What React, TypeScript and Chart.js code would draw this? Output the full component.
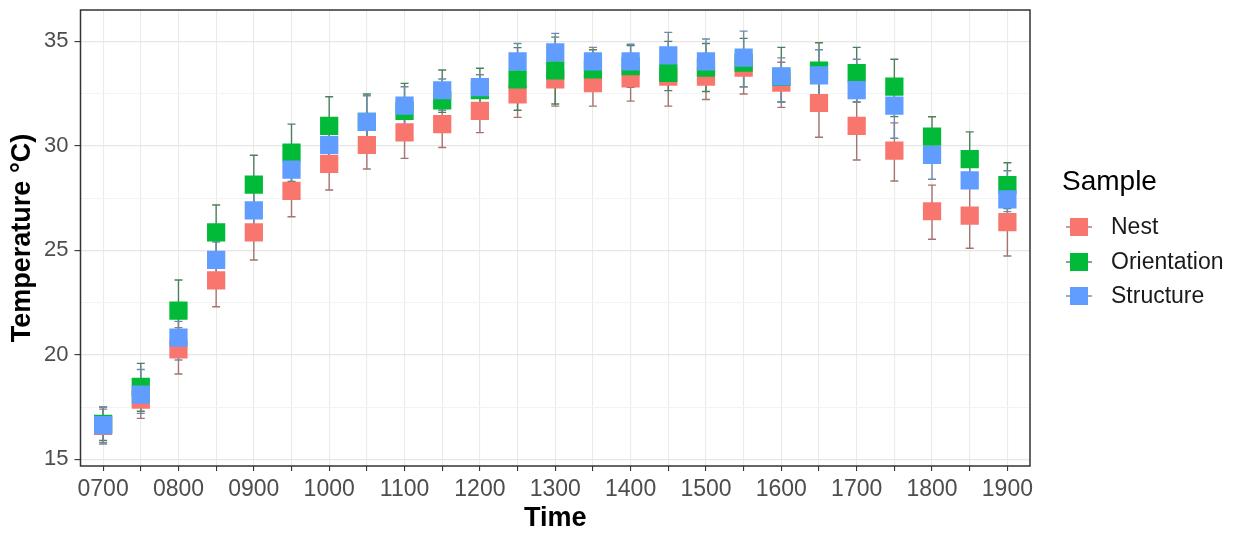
import React, { useEffect, useRef } from 'react';
import { Chart, registerables } from 'chart.js';

Chart.register(...registerables);

const TIMES = [
  '0700', '0730', '0800', '0830', '0900', '0930', '1000', '1030', '1100', '1130',
  '1200', '1230', '1300', '1330', '1400', '1430', '1500', '1530', '1600', '1630',
  '1700', '1730', '1800', '1830', '1900',
];

const SERIES_NAMES = ['Nest', 'Orientation', 'Structure'];

const NEST_MEAN = [16.6, 17.85, 20.26, 23.56, 25.86, 27.85, 29.14, 30.04, 30.65, 31.04, 31.67, 32.46, 33.18, 33.0, 33.23, 33.31, 33.31, 33.74, 33.03, 32.05, 30.95, 29.77, 26.87, 26.66, 26.35];
const NEST_LOW = [15.8, 16.96, 19.08, 22.3, 24.54, 26.61, 27.89, 28.89, 29.4, 29.92, 30.63, 31.36, 31.9, 31.9, 32.14, 31.9, 32.22, 32.48, 31.84, 30.41, 29.32, 28.32, 25.53, 25.1, 24.73];
const NEST_HIGH = [17.4, 18.6, 21.3, 24.7, 27.0, 29.0, 30.3, 31.2, 31.8, 32.1, 32.6, 33.4, 34.0, 34.0, 34.2, 34.3, 34.3, 34.5, 34.0, 33.5, 32.4, 31.1, 28.12, 28.1, 27.9];

const ORIENT_MEAN = [16.7, 18.47, 22.11, 25.86, 28.14, 29.67, 30.95, 31.15, 31.67, 32.18, 32.67, 33.18, 33.61, 33.66, 33.82, 33.49, 33.74, 33.98, 33.3, 33.6, 33.48, 32.83, 30.44, 29.37, 28.12];
const ORIENT_LOW = [15.9, 17.3, 20.6, 24.5, 26.8, 28.3, 29.5, 29.9, 30.4, 31.6, 31.6, 31.7, 32.0, 32.7, 32.8, 32.64, 32.6, 32.83, 32.1, 32.3, 32.1, 31.4, 29.3, 28.2, 27.0];
const ORIENT_HIGH = [17.5, 19.59, 23.58, 27.17, 29.55, 31.04, 32.35, 32.48, 32.99, 33.63, 33.71, 34.7, 35.2, 34.6, 34.8, 35.0, 34.9, 35.14, 34.71, 34.93, 34.71, 34.14, 31.39, 30.67, 29.19];

const STRUCT_MEAN = [16.64, 18.09, 20.82, 24.54, 26.91, 28.86, 30.04, 31.15, 31.92, 32.66, 32.81, 34.04, 34.47, 34.04, 34.04, 34.33, 34.04, 34.22, 33.32, 33.37, 32.67, 31.92, 29.57, 28.35, 27.44];
const STRUCT_LOW = [15.73, 17.2, 19.75, 23.6, 26.0, 27.8, 28.9, 30.0, 30.9, 31.7, 31.9, 33.0, 33.3, 33.0, 33.0, 33.2, 33.0, 32.83, 32.11, 32.4, 32.1, 30.36, 28.4, 28.1, 26.85];
const STRUCT_HIGH = [17.5, 19.3, 21.6, 25.4, 27.8, 29.9, 31.2, 32.4, 32.83, 33.2, 33.4, 34.9, 35.38, 34.71, 34.86, 35.43, 35.11, 35.49, 34.21, 34.6, 34.14, 33.0, 30.5, 29.4, 28.81];

const Y_TICKS = [15, 17.5, 20, 22.5, 25, 27.5, 30, 32.5, 35];
const Y_MAJOR = [15, 20, 25, 30, 35];

const FILL_COLORS = ['#F8766D', '#00BA38', '#619CFF'];
const WHISKER_COLORS = ['#A47470', '#4C7F5C', '#6F8AA6'];
const FONT = "'Liberation Sans', Arial, sans-serif";

const MEANS = [NEST_MEAN, ORIENT_MEAN, STRUCT_MEAN];
const LOWS = [NEST_LOW, ORIENT_LOW, STRUCT_LOW];
const HIGHS = [NEST_HIGH, ORIENT_HIGH, STRUCT_HIGH];

const errorBarPlugin = {
  id: 'errorBars',
  beforeDatasetsDraw(chart: any) {
    const { ctx, scales } = chart;
    const xs = scales.x;
    const ys = scales.y;
    ctx.save();
    ctx.lineWidth = 1.4;
    chart.data.datasets.forEach((ds: any, di: number) => {
      ctx.strokeStyle = WHISKER_COLORS[di];
      ds.data.forEach((p: any) => {
        const px = xs.getPixelForValue(p.x);
        const yl = ys.getPixelForValue(p.low);
        const yh = ys.getPixelForValue(p.high);
        ctx.beginPath();
        ctx.moveTo(px, yl);
        ctx.lineTo(px, yh);
        ctx.moveTo(px - 4, yl);
        ctx.lineTo(px + 4, yl);
        ctx.moveTo(px - 4, yh);
        ctx.lineTo(px + 4, yh);
        ctx.stroke();
      });
    });
    ctx.restore();
  },
};

const borderPlugin = {
  id: 'panelBorder',
  afterDatasetsDraw(chart: any) {
    const { ctx, chartArea } = chart;
    ctx.save();
    ctx.strokeStyle = '#333333';
    ctx.lineWidth = 1.5;
    ctx.strokeRect(chartArea.left, chartArea.top, chartArea.right - chartArea.left, chartArea.bottom - chartArea.top);
    ctx.restore();
  },
};

const legendPlugin = {
  id: 'sideLegend',
  afterDraw(chart: any) {
    const { ctx } = chart;
    ctx.save();
    ctx.fillStyle = '#000000';
    ctx.textBaseline = 'middle';
    ctx.textAlign = 'left';
    ctx.font = `28px ${FONT}`;
    ctx.fillText('Sample', 1062, 182);
    const rows = [227, 262, 296];
    ctx.font = `23px ${FONT}`;
    SERIES_NAMES.forEach((name, i) => {
      const cy = rows[i];
      const cx = 1079;
      ctx.strokeStyle = WHISKER_COLORS[i];
      ctx.lineWidth = 1.4;
      ctx.beginPath();
      ctx.moveTo(cx - 13, cy);
      ctx.lineTo(cx + 13, cy);
      ctx.stroke();
      ctx.fillStyle = FILL_COLORS[i];
      ctx.fillRect(cx - 9, cy - 9, 18, 18);
      ctx.fillStyle = '#1a1a1a';
      ctx.fillText(name, 1111, cy + 1);
    });
    ctx.restore();
  },
};

export default function App() {
  const canvasRef = useRef<HTMLCanvasElement | null>(null);

  useEffect(() => {
    const canvas = canvasRef.current;
    if (!canvas) return;
    const datasets = SERIES_NAMES.map((name, si) => ({
      label: name,
      data: TIMES.map((_, i) => ({ x: i, y: MEANS[si][i], low: LOWS[si][i], high: HIGHS[si][i] })),
      backgroundColor: FILL_COLORS[si],
      borderColor: FILL_COLORS[si],
      borderWidth: 0,
      pointStyle: 'rect',
      pointRadius: 12.9,
      pointHoverRadius: 12.9,
      order: 2 - si,
    }));

    const chart = new Chart(canvas, {
      type: 'scatter',
      data: { datasets },
      plugins: [errorBarPlugin, borderPlugin, legendPlugin],
      options: {
        animation: false,
        responsive: false,
        events: [],
        layout: { autoPadding: false, padding: { left: 0, right: 216, top: 10, bottom: 0 } },
        plugins: {
          legend: { display: false },
          tooltip: { enabled: false },
        },
        scales: {
          x: {
            type: 'linear',
            min: -0.6,
            max: 24.6,
            afterBuildTicks: (scale: any) => {
              scale.ticks = TIMES.map((_, i) => ({ value: i }));
            },
            afterFit: (scale: any) => {
              scale.height = 70;
              scale.paddingLeft = 0;
              scale.paddingRight = 0;
            },
            ticks: {
              autoSkip: false,
              maxRotation: 0,
              minRotation: 0,
              padding: 5,
              color: '#4D4D4D',
              font: { family: FONT, size: 23 },
              callback: (v: any) => {
                const t = TIMES[Math.round(Number(v))];
                return t && t.endsWith('00') ? t : '';
              },
            },
            grid: {
              color: '#EBEBEB',
              lineWidth: 1.1,
              tickColor: '#333333',
              tickLength: 5,
              tickWidth: 1.1,
            },
            border: { display: false },
            title: {
              display: true,
              text: 'Time',
              color: '#000000',
              font: { family: FONT, size: 27, weight: 'bold' },
              padding: { top: 0, bottom: 1 },
            },
          },
          y: {
            type: 'linear',
            min: 14.68,
            max: 36.5,
            afterBuildTicks: (scale: any) => {
              scale.ticks = Y_TICKS.map((v) => ({ value: v }));
            },
            afterFit: (scale: any) => {
              scale.width = 80.5;
              scale.paddingTop = 0;
              scale.paddingBottom = 0;
            },
            ticks: {
              autoSkip: false,
              padding: 6,
              color: '#4D4D4D',
              font: { family: FONT, size: 22 },
              callback: (v: any) => (Y_MAJOR.includes(Number(v)) ? String(v) : ''),
            },
            grid: {
              color: (c: any) => (Y_MAJOR.includes(c.tick?.value) ? '#E6E6E6' : '#F3F3F3'),
              lineWidth: (c: any) => (Y_MAJOR.includes(c.tick?.value) ? 1.2 : 1),
              tickColor: (c: any) => (Y_MAJOR.includes(c.tick?.value) ? '#333333' : 'rgba(0,0,0,0)'),
              tickLength: 6,
              tickWidth: 1.1,
            },
            border: { display: false },
            title: {
              display: true,
              text: 'Temperature °C)',
              color: '#000000',
              font: { family: FONT, size: 27, weight: 'bold' },
              padding: { top: 6, bottom: 0 },
            },
          },
        },
      } as any,
    });

    return () => chart.destroy();
  }, []);

  return (
    <div style={{ position: 'fixed', left: 0, top: 0, width: 1246, height: 536, background: '#ffffff' }}>
      <canvas ref={canvasRef} width={1246} height={536} style={{ display: 'block' }} />
    </div>
  );
}
